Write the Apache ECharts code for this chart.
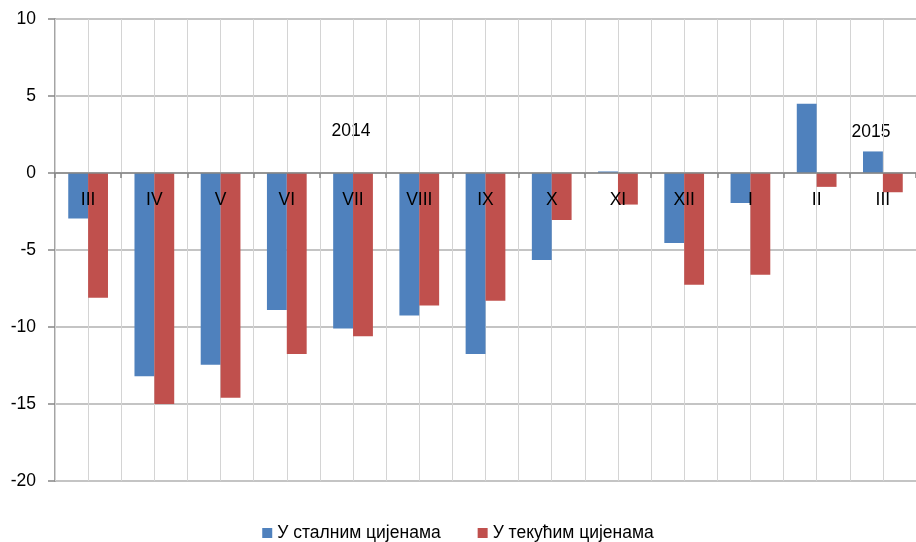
<!DOCTYPE html>
<html>
<head>
<meta charset="utf-8">
<script src="https://cdn.jsdelivr.net/npm/echarts@6/dist/echarts.min.js"></script>
<style>html,body{margin:0;padding:0;background:#fff}#c{width:916px;height:542px}</style>
</head>
<body>
<div id="c"></div>
<script>
var categories = ['III','IV','V','VI','VII','VIII','IX','X','XI','XII','I','II','III'];
var constantPrices = [-2.95, -13.2, -12.45, -8.9, -10.1, -9.25, -11.75, -5.65, 0.1, -4.55, -1.95, 4.5, 1.4];
var currentPrices = [-8.1, -15.0, -14.6, -11.75, -10.6, -8.6, -8.3, -3.05, -2.05, -7.25, -6.6, -0.9, -1.25];
var seriesNames = ['У сталним цијенама', 'У текућим цијенама'];
var yearLabels = ['2014', '2015'];
var yTicks = {min: -20, max: 10, interval: 5};

var FONT = '"Liberation Sans", Arial, sans-serif';
var GRID_TOP = 19, GRID_BOTTOM = 61, H = 542;
var chart = echarts.init(document.getElementById('c'), null, {renderer: 'canvas'});
chart.setOption({
  animation: false,
  textStyle: {fontFamily: FONT},
  grid: {left: 55, right: 0, top: GRID_TOP, bottom: GRID_BOTTOM},
  legend: {
    data: seriesNames,
    top: 519,
    left: 'center',
    itemWidth: 10,
    itemHeight: 10,
    itemGap: 37,
    icon: 'rect',
    textStyle: {fontSize: 17.5, color: '#000', fontFamily: FONT}
  },
  xAxis: [{
    type: 'category',
    data: categories,
    offset: 0,
    axisLine: {onZero: false, lineStyle: {color: '#868686', width: 1.5}},
    axisTick: {show: true, length: 5, lineStyle: {color: '#868686', width: 1.5}},
    axisLabel: {fontSize: 17.5, color: '#000', margin: 18, fontFamily: FONT},
    splitLine: {show: true, lineStyle: {color: '#d4d4d4', width: 1}},
    z: 5
  }, {
    type: 'value',
    min: 0, max: 26, interval: 1,
    position: 'top',
    axisLine: {show: false, onZero: false},
    axisTick: {show: false},
    axisLabel: {show: false},
    splitLine: {show: true, lineStyle: {color: '#d4d4d4', width: 1}}
  }],
  yAxis: {
    type: 'value',
    min: yTicks.min, max: yTicks.max, interval: yTicks.interval,
    axisLine: {show: true, onZero: false, lineStyle: {color: '#868686', width: 1.5}},
    axisTick: {show: true, length: 7, lineStyle: {color: '#868686', width: 1.5}},
    axisLabel: {fontSize: 17.5, color: '#000', margin: 19, fontFamily: FONT},
    splitLine: {show: true, lineStyle: {color: '#b0b0b0', width: 1.5}}
  },
  series: [{
    name: seriesNames[0],
    type: 'bar',
    data: constantPrices,
    barGap: '0%',
    barCategoryGap: '40%',
    itemStyle: {color: '#4f81bd'}
  }, {
    name: seriesNames[1],
    type: 'bar',
    data: currentPrices,
    barGap: '0%',
    barCategoryGap: '40%',
    itemStyle: {color: '#c0504d'}
  }],
  graphic: [{
    type: 'text', x: 351, y: 131,
    style: {text: yearLabels[0], font: '17.5px ' + FONT, fill: '#000', align: 'center', verticalAlign: 'middle'}
  }, {
    type: 'text', x: 871, y: 132,
    style: {text: yearLabels[1], font: '17.5px ' + FONT, fill: '#000', align: 'center', verticalAlign: 'middle'}
  }]
});
// move the category axis (line, ticks, labels) onto the value-axis zero
var zeroY = chart.convertToPixel({yAxisIndex: 0}, 0);
var bottomY = H - GRID_BOTTOM;
chart.setOption({xAxis: [{offset: zeroY - bottomY}, {}]});
</script>
</body>
</html>
